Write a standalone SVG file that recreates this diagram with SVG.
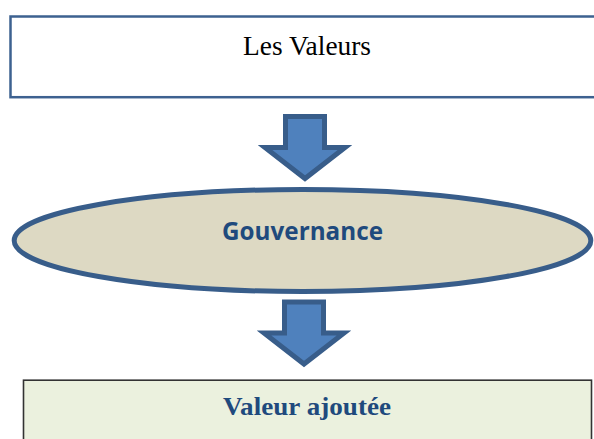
<svg xmlns="http://www.w3.org/2000/svg" width="594" height="439" viewBox="0 0 594 439">
<defs>
<style>
.arrow{fill:#4f81bd;stroke:#385d8a;stroke-width:5;stroke-linejoin:miter;stroke-miterlimit:10}
.serif{font-family:"Liberation Serif","Times New Roman",serif}
.sans{font-family:"Open Sans","Noto Sans",sans-serif;font-weight:bold}
</style>
</defs>
<rect width="594" height="439" fill="#ffffff"/>
<g id="node-valeurs">
<rect x="10.5" y="16.5" width="600" height="80.7" fill="#ffffff" stroke="#3d6190" stroke-width="2.5"/>
<text class="serif" x="307" y="55" font-size="26.5" text-anchor="middle" fill="#000000" textLength="128" lengthAdjust="spacingAndGlyphs">Les Valeurs</text>
</g>
<g id="node-gouvernance">
<ellipse cx="302.5" cy="240.5" rx="288.3" ry="51" fill="#ddd9c3" stroke="#385d8a" stroke-width="5"/>
<text class="sans" x="302.5" y="240" font-size="25" text-anchor="middle" fill="#1f4a7d" textLength="161" lengthAdjust="spacingAndGlyphs">Gouvernance</text>
</g>
<g id="node-valeur-ajoutee">
<rect x="23.5" y="380.2" width="568" height="80" fill="#ebf1de" stroke="#333333" stroke-width="1.6"/>
<text class="serif" x="307" y="415" font-size="26" font-weight="bold" text-anchor="middle" fill="#1f4a7d" textLength="168" lengthAdjust="spacingAndGlyphs">Valeur ajoutée</text>
</g>
<g id="connectors">
<polygon class="arrow" points="285.5,116.5 324.5,116.5 324.5,147.5 345,147.5 305,178.5 265,147.5 285.5,147.5"/>
<polygon class="arrow" transform="translate(-1,185.5)" points="285.5,116.5 324.5,116.5 324.5,147.5 345,147.5 305,178.5 265,147.5 285.5,147.5"/>
</g>
</svg>
